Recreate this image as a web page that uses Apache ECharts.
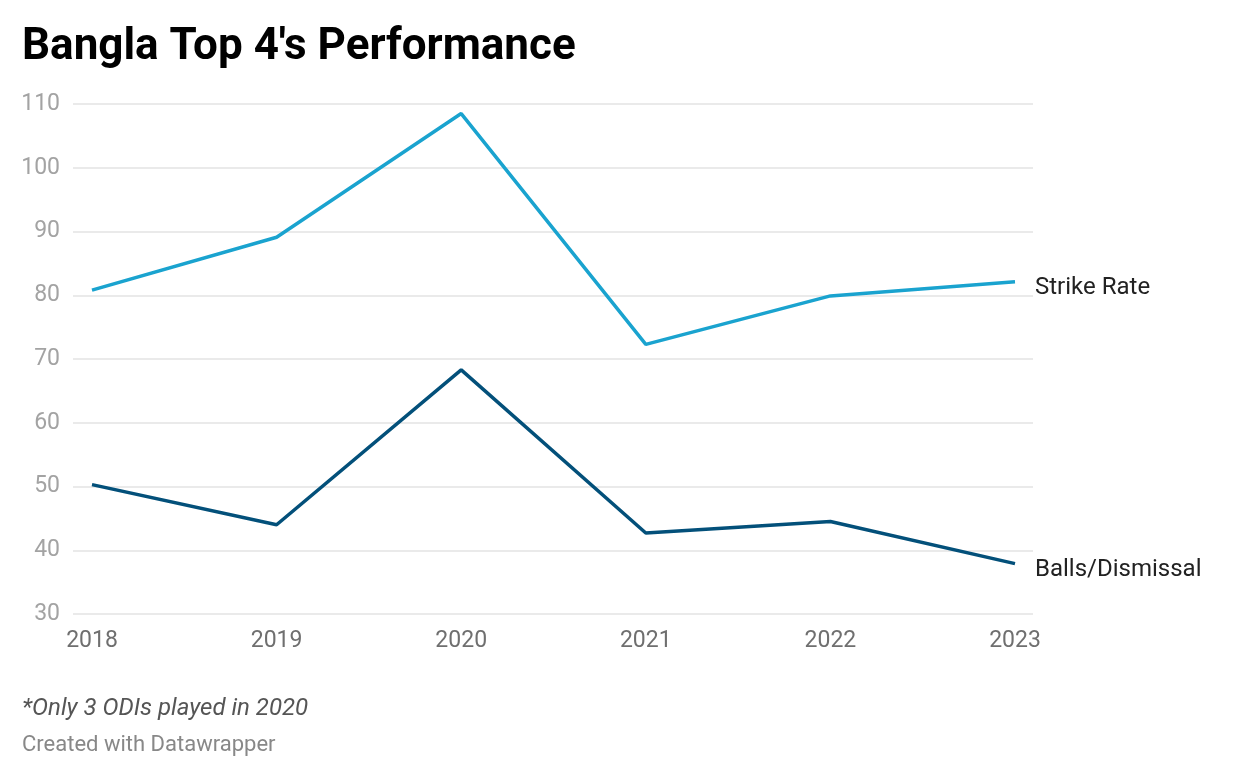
<!DOCTYPE html>
<html>
<head>
<meta charset="utf-8">
<script src="https://cdn.jsdelivr.net/npm/echarts@6/dist/echarts.min.js"></script>
<style>
html,body{margin:0;padding:0;background:#fff;}
#chart{width:1240px;height:778px;}
</style>
</head>
<body>
<div id="chart"></div>
<script>
const years = ['2018', '2019', '2020', '2021', '2022', '2023'];
const strikeRate = [80.8, 89.1, 108.5, 72.3, 79.9, 82.1];
const ballsPerDismissal = [50.3, 44.0, 68.3, 42.7, 44.5, 37.9];
const seriesNames = ['Strike Rate', 'Balls/Dismissal'];
const yMin = 30, yMax = 110, yStep = 10;

const chart = echarts.init(document.getElementById('chart'));
const font = 'Roboto, "Noto Sans", sans-serif';

chart.setOption({
  backgroundColor: '#ffffff',
  animation: false,
  title: {
    text: "Bangla Top 4's Performance",
    left: 22,
    top: 26,
    padding: 0,
    textStyle: { fontFamily: font, fontWeight: 'bold', fontSize: 44, color: '#000000' }
  },
  grid: [
    { left: 73, right: 207, top: 104, bottom: 164 },
    { left: 92, right: 225, top: 104, bottom: 164 }
  ],
  xAxis: [
    { gridIndex: 0, type: 'category', data: years, show: false },
    {
      gridIndex: 1, type: 'category', data: years, boundaryGap: false,
      axisLine: { show: false }, axisTick: { show: false },
      axisLabel: { color: '#6f6f6f', fontFamily: font, fontSize: 23, margin: 16 }
    }
  ],
  yAxis: [
    {
      gridIndex: 0, type: 'value', min: yMin, max: yMax, interval: yStep,
      axisLine: { show: false }, axisTick: { show: false },
      axisLabel: { color: '#a3a3a3', fontFamily: font, fontSize: 23, margin: 13 },
      splitLine: { lineStyle: { color: '#e3e3e3', width: 1.5 } }
    },
    {
      gridIndex: 1, type: 'value', min: yMin, max: yMax, interval: yStep, show: false,
      splitLine: { show: false }
    }
  ],
  series: [
    {
      name: seriesNames[0], type: 'line', xAxisIndex: 1, yAxisIndex: 1,
      data: strikeRate, symbol: 'none',
      lineStyle: { color: '#1aa3cf', width: 3.5 },
      endLabel: { show: true, formatter: '{a}', color: '#222222', fontFamily: font, fontSize: 24, distance: 20, offset: [0, 6] }
    },
    {
      name: seriesNames[1], type: 'line', xAxisIndex: 1, yAxisIndex: 1,
      data: ballsPerDismissal, symbol: 'none',
      lineStyle: { color: '#03507a', width: 3.5 },
      endLabel: { show: true, formatter: '{a}', color: '#222222', fontFamily: font, fontSize: 24, distance: 20, offset: [0, 6] }
    }
  ],
  graphic: [
    {
      type: 'text', left: 22, top: 697,
      style: { text: '*Only 3 ODIs played in 2020', fill: '#555555', font: 'italic 24px ' + font }
    },
    {
      type: 'text', left: 22, top: 734,
      style: { text: 'Created with Datawrapper', fill: '#888888', font: '22px ' + font }
    }
  ]
});
</script>
</body>
</html>
